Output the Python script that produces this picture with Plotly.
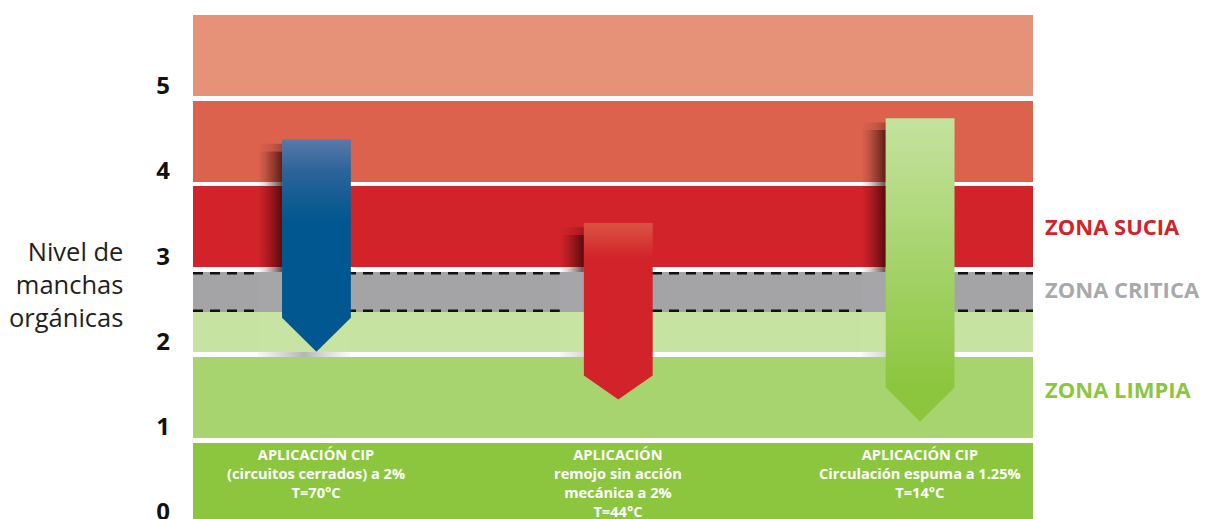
import plotly.graph_objects as go

# ---------------- data ----------------
categories = [
    "APLICACIÓN CIP<br>(circuitos cerrados) a 2%<br>T=70°C",
    "APLICACIÓN<br>remojo sin acción<br>mecánica a 2%<br>T=44°C",
    "APLICACIÓN CIP<br>Circulación espuma a 1.25%<br>T=14°C",
]
cat_pos = [0, 1, 2]
arrow_top = [4.37, 3.39, 4.62]      # nivel inicial
arrow_tip = [1.88, 1.32, 1.06]      # nivel final

band_bottom = [4.88, 3.871, 2.874, 2.346, 1.877, 0.868, -0.5]
band_top = [5.95, 4.821, 3.824, 2.815, 2.346, 1.818, 0.809]
band_colors = ["#e69279", "#dc624e", "#d2232a", "#a4a4a6", "#c6e3a1", "#a8d46f", "#8cc63f"]

critical_lines = [2.80, 2.36]

zone_labels = ["ZONA SUCIA", "ZONA CRITICA", "ZONA LIMPIA"]
zone_y = [3.355, 2.615, 1.443]
zone_colors = ["#d2232a", "#a7a9ac", "#8cc63f"]

y_ticks = [0, 1, 2, 3, 4, 5]

# ---------------- style ----------------
X_MIN, X_MAX = -0.409, 2.374
HW = 0.114            # half width of arrows
SHW = 0.08            # shadow width
tip_depth = [0.40, 0.28, 0.40]
arrow_scales = [
    [[0, "#01578f"], [0.62, "#01578f"], [0.85, "#2c6399"], [1, "#5a79a9"]],
    [[0, "#d2232a"], [0.80, "#d2232a"], [1, "#da5343"]],
    [[0, "#8cc63f"], [0.12, "#8cc63f"], [1, "#c4e29f"]],
]
FONT = "Open Sans"

fig = go.Figure()

shapes = []
for b0, b1, c in zip(band_bottom, band_top, band_colors):
    shapes.append(dict(type="rect", xref="x", yref="y", x0=X_MIN - 1, x1=X_MAX,
                       y0=b0, y1=b1, fillcolor=c, line=dict(width=0), layer="below"))
for yl in critical_lines:
    shapes.append(dict(type="line", xref="x", yref="y", x0=X_MIN, x1=X_MAX, y0=yl, y1=yl,
                       line=dict(color="#111111", width=2.5, dash="10px,7px"), layer="below"))
# faint strips (shadow layer boxes) over the critical / light-green bands
for i, cx in enumerate(cat_pos):
    xl = cx - HW - SHW
    shapes.append(dict(type="rect", xref="x", yref="y", x0=xl, x1=cx - HW,
                       y0=band_bottom[3], y1=band_top[3], fillcolor="#a6a6a8",
                       line=dict(width=0), layer="below"))
    shapes.append(dict(type="rect", xref="x", yref="y", x0=xl, x1=cx + HW,
                       y0=band_bottom[4], y1=band_top[4], fillcolor="#c8e4a3",
                       line=dict(width=0), layer="below"))
fig.update_layout(shapes=shapes)

# shadows
for i, cx in enumerate(cat_pos):
    xl = cx - HW - SHW
    xr = cx - HW
    yt = arrow_top[i] - 0.14
    yb = band_top[3]
    grad = [[0, "rgba(40,0,0,0)"], [0.3, "rgba(40,0,0,0.15)"], [0.7, "rgba(40,0,0,0.45)"],
            [1, "rgba(40,0,0,0.7)"]]
    fig.add_trace(go.Scatter(
        x=[xl, xr, xr, xl, xl], y=[yt, yt, yb, yb, yt],
        mode="lines", line=dict(width=0), fill="toself",
        fillgradient=dict(type="horizontal", colorscale=grad),
        hoverinfo="skip", showlegend=False))
    # soft top of the shadow
    yt2 = arrow_top[i] - 0.05
    grad2 = [[0, "rgba(40,0,0,0)"], [0.6, "rgba(40,0,0,0.12)"], [1, "rgba(40,0,0,0.3)"]]
    fig.add_trace(go.Scatter(
        x=[xl, xr, xr, xl, xl], y=[yt2, yt2, yt, yt, yt2],
        mode="lines", line=dict(width=0), fill="toself",
        fillgradient=dict(type="horizontal", colorscale=grad2),
        hoverinfo="skip", showlegend=False))
    # shadow in the white gap below the light-green band
    fig.add_trace(go.Scatter(
        x=[xl, cx + HW, cx + HW, xl, xl],
        y=[band_bottom[4], band_bottom[4], band_top[5], band_top[5], band_bottom[4]],
        mode="lines", line=dict(width=0), fill="toself",
        fillgradient=dict(type="horizontal",
                          colorscale=[[0, "rgba(120,120,120,0.05)"], [0.5, "rgba(90,90,90,0.45)"],
                                      [1, "rgba(150,150,150,0.05)"]]),
        hoverinfo="skip", showlegend=False))

# arrows
for i, cx in enumerate(cat_pos):
    yt = arrow_top[i]
    ytip = arrow_tip[i]
    ys = ytip + tip_depth[i]
    xs = [cx - HW, cx + HW, cx + HW, cx, cx - HW, cx - HW]
    ys_ = [yt, yt, ys, ytip, ys, yt]
    fig.add_trace(go.Scatter(
        x=xs, y=ys_, mode="lines", line=dict(width=0), fill="toself",
        fillgradient=dict(type="vertical", colorscale=arrow_scales[i]),
        hoverinfo="skip", showlegend=False))

annotations = []
for cx, txt in zip(cat_pos, categories):
    annotations.append(dict(x=cx, y=0.82, xref="x", yref="y", text=txt, showarrow=False,
                            xanchor="center", yanchor="top", align="center",
                            font=dict(family=FONT, size=14.6, color="white", weight="bold")))
for lab, yv, c in zip(zone_labels, zone_y, zone_colors):
    annotations.append(dict(x=1, y=yv, xref="paper", yref="y", text=lab, showarrow=False,
                            xanchor="left", yanchor="middle", xshift=10,
                            font=dict(family=FONT, size=22, color=c, weight="bold")))
annotations.append(dict(x=-0.081, y=2.675, xref="paper", yref="y",
                        text="Nivel de<br>manchas<br>orgánicas", showarrow=False,
                        xanchor="right", yanchor="middle", align="right",
                        font=dict(family=FONT, size=25.5, color="#231f20")))

# the page body has an 8px margin, so the figure is drawn 8px smaller and offset
fig.update_layout(
    annotations=annotations,
    width=1203, height=511,
    margin=dict(l=185, r=178, t=7, b=0),
    paper_bgcolor="white", plot_bgcolor="white",
    xaxis=dict(range=[X_MIN, X_MAX], visible=False, fixedrange=True),
    yaxis=dict(range=[-0.082, 5.83], tickvals=y_ticks, ticktext=[str(v) for v in y_ticks],
               showgrid=False, zeroline=False, showline=False, ticks="",
               ticklabelstandoff=22, ticklabeloverflow="allow", automargin=False,
               tickfont=dict(family=FONT, size=24, color="#111111", weight="bold")),
    showlegend=False,
)

fig.write_html("out.html")
